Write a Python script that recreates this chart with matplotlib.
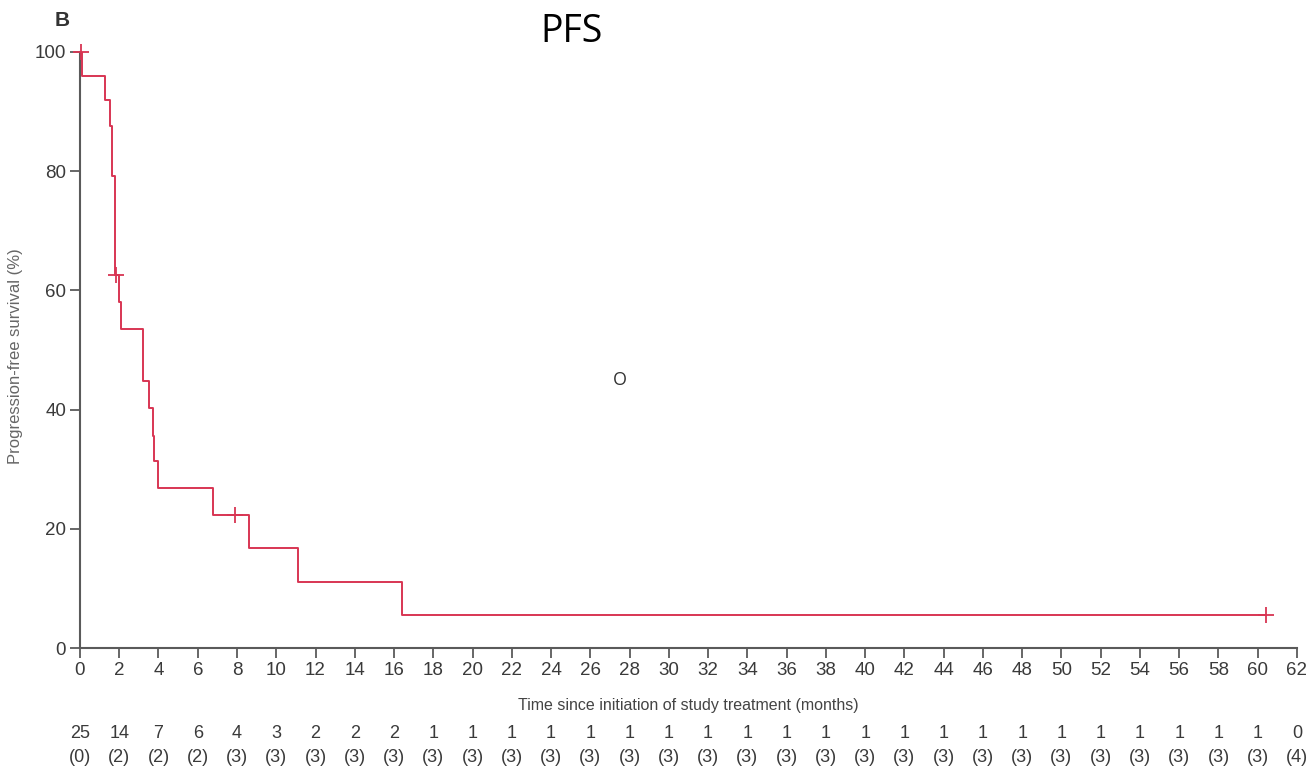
import matplotlib

matplotlib.use("Agg")
import matplotlib.pyplot as plt
import matplotlib.transforms as mtransforms

plt.rcParams["font.family"] = ["Liberation Sans", "DejaVu Sans"]

# Kaplan-Meier steps (months, % progression-free)
step_times = [0.0, 0.1, 1.25, 1.55, 1.62, 1.8, 2.0, 2.1, 3.2, 3.5, 3.7, 3.78, 4.0, 6.8, 8.6, 11.1, 16.4, 60.4]
step_surv = [100.0, 96.0, 92.0, 87.6, 79.2, 62.5, 58.0, 53.5, 44.8, 40.2, 35.6, 31.4, 26.8, 22.3, 16.8, 11.1, 5.6, 5.6]

censor_times = [0.05, 1.85, 7.9, 60.4]
censor_surv = [100.0, 62.5, 22.3, 5.6]

risk_times = list(range(0, 63, 2))
at_risk = [25, 14, 7, 6, 4, 3, 2, 2, 2] + [1] * 21 + [1, 0]
censored = [0, 2, 2, 2, 3, 3, 3, 3, 3] + [3] * 21 + [3, 4]

RED = "#d83553"
GREY = "#5a5a5a"
TXT = "#3a3a3a"

fig = plt.figure(figsize=(13.09, 7.70), dpi=100)
ax = fig.add_axes([0.0611, 0.1584, 0.9297, 0.7741])

ax.step(step_times, step_surv, where="post", color=RED, lw=1.4, zorder=3)
ax.plot(censor_times, censor_surv, ls="none", marker="+", ms=11, mew=1.3,
        color=RED, clip_on=False, zorder=4)

ax.set_xlim(0, 62)
ax.set_ylim(0, 100)
ax.set_xticks(risk_times)
ax.set_yticks(range(0, 101, 20))
for side in ("top", "right"):
    ax.spines[side].set_visible(False)
for side in ("left", "bottom"):
    ax.spines[side].set_color(GREY)
    ax.spines[side].set_linewidth(1.5)
ax.tick_params(direction="out", length=7, width=1.3, color=GREY,
               labelsize=13.5, labelcolor=TXT, pad=3)

ax.set_xlabel("Time since initiation of study treatment (months)", fontsize=11.5,
              color="#444444")
ax.xaxis.set_label_coords(0.5, -0.083)
ax.set_ylabel("Progression-free survival (%)", fontsize=12, color="#666666")
ax.yaxis.set_label_coords(-0.047, 0.49)

trans = mtransforms.blended_transform_factory(ax.transData, ax.transAxes)
for t, n, c in zip(risk_times, at_risk, censored):
    ax.text(t, -0.143, str(n), transform=trans, ha="center", va="center",
            fontsize=13, color=TXT)
    ax.text(t, -0.183, f"({c})", transform=trans, ha="center", va="center",
            fontsize=13, color=TXT)

ax.text(27.5, 45, "O", ha="center", va="center", fontsize=13, color="#333333",
        family=["Open Sans", "DejaVu Sans"])

fig.text(0.0475, 0.974, "B", fontsize=15, fontweight="bold", color="#333333",
         ha="center", va="center")
fig.text(0.437, 0.958, "PFS", fontsize=27, color="black", ha="center", va="center",
         family=["Open Sans", "DejaVu Sans"])

fig.savefig("out.png", dpi=100)
